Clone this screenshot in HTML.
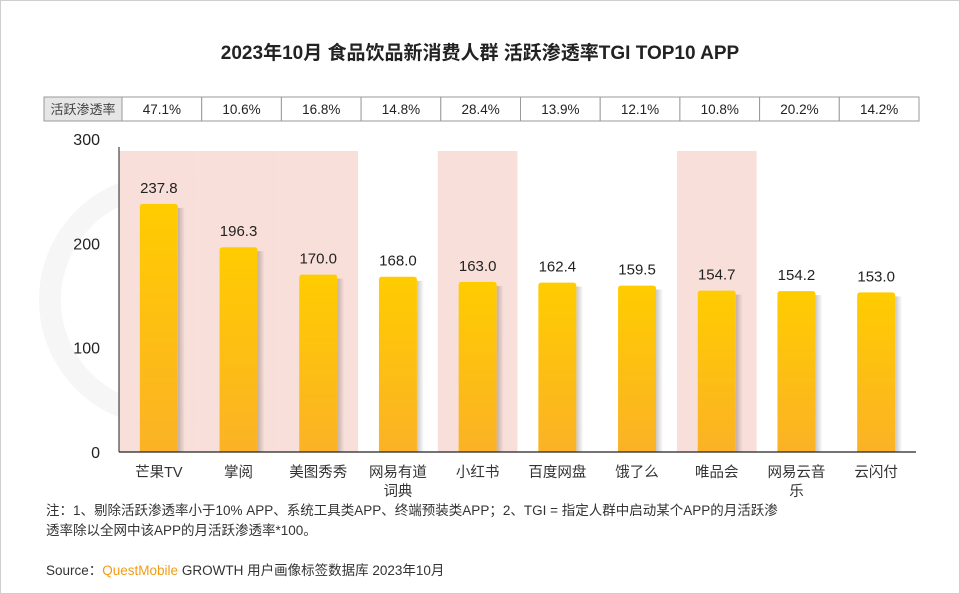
<!DOCTYPE html>
<html><head><meta charset="utf-8"><style>
body{margin:0;width:960px;height:594px;background:#fff;overflow:hidden;font-family:"Liberation Sans","Noto Sans CJK SC",sans-serif;}
.frame{position:absolute;left:0;top:0;width:958px;height:592px;border:1px solid #cfcfcf;}
</style></head><body>
<div class="frame"></div>
<svg id="c" width="960" height="594" style="position:absolute;left:0;top:0">
<defs>
<linearGradient id="g" x1="0" y1="0" x2="0" y2="1"><stop offset="0" stop-color="#ffcc00"/><stop offset="1" stop-color="#fbb226"/></linearGradient>
<linearGradient id="sh" x1="0" y1="0" x2="1" y2="0"><stop offset="0" stop-color="#000" stop-opacity="0.22"/><stop offset="1" stop-color="#000" stop-opacity="0"/></linearGradient>
</defs>
<circle cx="165" cy="300" r="115" fill="none" stroke="#f6f6f6" stroke-width="22"/>
<text x="480" y="59" text-anchor="middle" font-size="19" font-weight="bold" fill="#222">2023年10月 食品饮品新消费人群 活跃渗透率TGI TOP10 APP</text>
<g id="tbl"></g>
<g id="bands"></g>
<g id="bars"></g>
<text x="46" y="515" font-size="13.5" fill="#333">注：1、剔除活跃渗透率小于10% APP、系统工具类APP、终端预装类APP；2、TGI = 指定人群中启动某个APP的月活跃渗</text>
<text x="46" y="535" font-size="13.5" fill="#333">透率除以全网中该APP的月活跃渗透率*100。</text>
<text x="46" y="575" font-size="13.5" fill="#333">Source：<tspan fill="#f39c12">QuestMobile</tspan> GROWTH 用户画像标签数据库 2023年10月</text>
</svg>
<script>
const categories=[["芒果TV"],["掌阅"],["美图秀秀"],["网易有道","词典"],["小红书"],["百度网盘"],["饿了么"],["唯品会"],["网易云音","乐"],["云闪付"]];
const tgiValues=[237.8,196.3,170.0,168.0,163.0,162.4,159.5,154.7,154.2,153.0];
const penetration=["47.1%","10.6%","16.8%","14.8%","28.4%","13.9%","12.1%","10.8%","20.2%","14.2%"];
const highlighted=[0,1,2,4,7];
const yTicks=[0,100,200,300];
const NS="http://www.w3.org/2000/svg";
const x0=119,x1=916,yBase=452,yTop=139,yMax=300;
const cw=(x1-x0)/categories.length;
const y=v=>yBase-(v/yMax)*(yBase-yTop);
const cx=i=>x0+cw*(i+0.5);
function mk(tag,attrs,parent){const e=document.createElementNS(NS,tag);for(const k in attrs)e.setAttribute(k,attrs[k]);parent.appendChild(e);return e;}
const tbl=document.getElementById('tbl'),bands=document.getElementById('bands'),bars=document.getElementById('bars');
let r=mk('rect',{x:44,y:97,width:78,height:24,fill:'#e6e6e6',stroke:'#999'},tbl);

let t=mk('text',{x:83,y:114,'text-anchor':'middle','font-size':13,fill:'#444'},tbl);t.textContent='活跃渗透率';

penetration.forEach((p,i)=>{
 const c=mk('rect',{x:x0+cw*i+3,y:97,width:cw,height:24,fill:'#fff',stroke:'#999'},tbl);
 
 const tt=mk('text',{x:cx(i)+3,y:114,'text-anchor':'middle','font-size':13.5,fill:'#222'},tbl);tt.textContent=p;
 
});
highlighted.forEach(i=>{
 const b=mk('rect',{x:x0+cw*i,y:151,width:cw,height:yBase-151,fill:'#f9dfd9'},bands);
 
});
const ax=mk('line',{x1:x0,y1:yTop+8,x2:x0,y2:yBase,stroke:'#222','stroke-width':1},bars);

yTicks.forEach(v=>{
 const tl=mk('text',{x:100,y:y(v)+6,'text-anchor':'end','font-size':16,fill:'#222'},bars);tl.textContent=v;
 
});
tgiValues.forEach((v,i)=>{
 const bw=38,bx=cx(i)-bw/2,by=y(v);
 const s=mk('rect',{x:bx+bw,y:by+4,width:7,height:yBase-by-4,fill:'url(#sh)'},bars);
 
 const b=mk('path',{d:`M${bx},${yBase}V${by+3}q0,-3 3,-3h${bw-6}q3,0 3,3V${yBase}Z`,fill:'url(#g)'},bars);
 
 const vl=mk('text',{x:cx(i),y:by-11,'text-anchor':'middle','font-size':15,fill:'#222'},bars);vl.textContent=v.toFixed(1);
 
 categories[i].forEach((ln,j)=>{
  const cl=mk('text',{x:cx(i),y:477+j*19,'text-anchor':'middle','font-size':14.5,fill:'#333'},bars);cl.textContent=ln;
  
 });
});
const xa=mk('line',{x1:x0,y1:yBase,x2:x1,y2:yBase,stroke:'#222','stroke-width':1.2},bars);

</script>
</body></html>
